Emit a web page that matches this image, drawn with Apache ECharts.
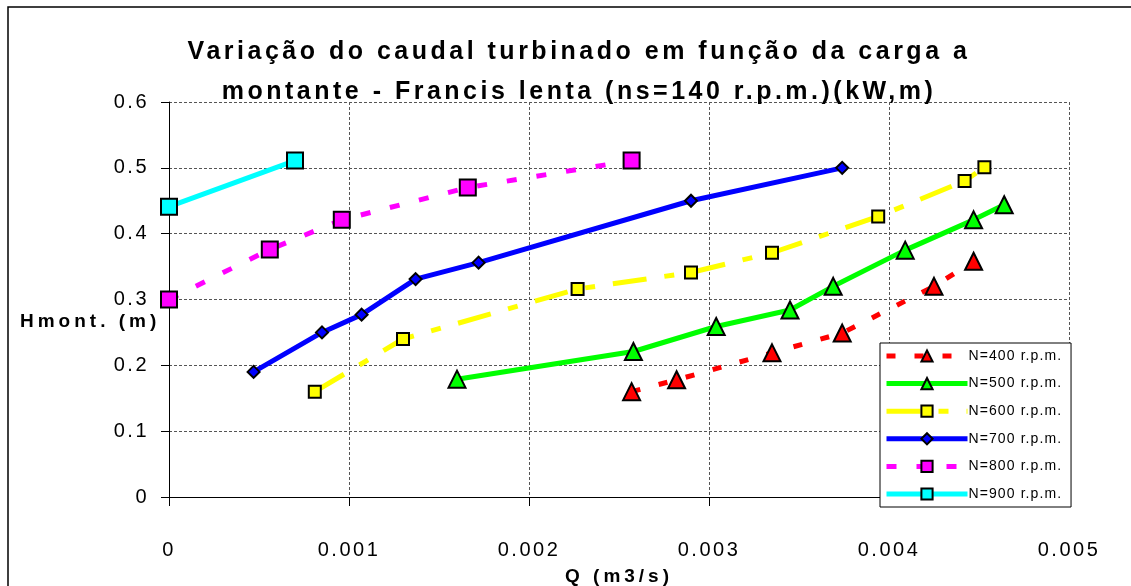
<!DOCTYPE html>
<html>
<head>
<meta charset="utf-8">
<script src="https://cdn.jsdelivr.net/npm/echarts@6/dist/echarts.min.js"></script>
<style>
html,body{margin:0;padding:0;background:#fff;}
#chart{width:1131px;height:586px;}
</style>
</head>
<body>
<div id="chart"></div>
<script>
// ---- data ----
const titleText = 'Variação do caudal turbinado em função da carga a\nmontante - Francis lenta (ns=140 r.p.m.)(kW,m)';
const xName = 'Q (m3/s)';
const yName = 'Hmont. (m)';
const seriesNames = ['N=400 r.p.m.', 'N=500 r.p.m.', 'N=600 r.p.m.', 'N=700 r.p.m.', 'N=800 r.p.m.', 'N=900 r.p.m.'];

const q400 = [0.00257, 0.00282, 0.00335, 0.00374, 0.00425, 0.00447];
const h400 = [0.160, 0.178, 0.219, 0.249, 0.320, 0.358];
const q500 = [0.00160, 0.00258, 0.00304, 0.00345, 0.00369, 0.00409, 0.00447, 0.00464];
const h500 = [0.179, 0.221, 0.259, 0.284, 0.320, 0.375, 0.421, 0.444];
const q600 = [0.00081, 0.00130, 0.00227, 0.00290, 0.00335, 0.00394, 0.00442, 0.00453];
const h600 = [0.160, 0.240, 0.316, 0.341, 0.371, 0.426, 0.480, 0.501];
const q700 = [0.00047, 0.00085, 0.00107, 0.00137, 0.00172, 0.00290, 0.00374];
const h700 = [0.190, 0.250, 0.277, 0.331, 0.356, 0.450, 0.500];
const q800 = [0, 0.00056, 0.00096, 0.00166, 0.00257];
const h800 = [0.300, 0.376, 0.421, 0.470, 0.511];
const q900 = [0, 0.00070];
const h900 = [0.441, 0.511];

// Excel-like letter spacing for text drawn on the canvas
(function(){
  const P = CanvasRenderingContext2D.prototype;
  const orig = P.fillText;
  const map = {25: '3.5px', 19: '4px', 20: '2.5px', 14: '1.1px'};
  P.fillText = function(){
    const m = /(\d+(?:\.\d+)?)px/.exec(this.font);
    const ls = m && map[Math.round(+m[1])];
    if (ls && ('letterSpacing' in this)) {
      const prev = this.letterSpacing;
      this.letterSpacing = ls;
      const r = orig.apply(this, arguments);
      this.letterSpacing = prev;
      return r;
    }
    return orig.apply(this, arguments);
  };
})();

function pairs(xs, ys){ return xs.map((x, i) => [x, ys[i]]); }

const FONT = "'Liberation Sans', Arial, sans-serif";

function mk(name, xs, ys, color, dash, symbol, size){
  return {
    name: name,
    type: 'line',
    data: pairs(xs, ys),
    clip: false,
    symbol: symbol,
    symbolSize: size,
    showAllSymbol: true,
    lineStyle: {color: color, width: 5, type: dash, cap: 'butt'},
    itemStyle: {color: color, borderColor: '#000', borderWidth: 2},
    emphasis: {disabled: true},
    animation: false
  };
}

const chart = echarts.init(document.getElementById('chart'), null, {renderer: 'canvas'});
chart.setOption({
  backgroundColor: '#fff',
  animation: false,
  title: {
    text: titleText,
    left: 574,
    top: 27,
    textAlign: 'center',
    textStyle: {fontFamily: FONT, fontSize: 25, fontWeight: 'bold', color: '#000', lineHeight: 40}
  },
  grid: {left: 169, right: 62, top: 102, bottom: 89, containLabel: false, outerBoundsMode: 'none'},
  xAxis: {
    type: 'value',
    min: 0, max: 0.005, interval: 0.001,
    name: xName,
    nameLocation: 'middle',
    nameGap: 70,
    nameTextStyle: {fontFamily: FONT, fontSize: 19, fontWeight: 'bold', color: '#000'},
    axisLine: {show: true, onZero: false, lineStyle: {color: '#000', width: 1}},
    axisTick: {show: true, length: 9, lineStyle: {color: '#000'}},
    axisLabel: {fontFamily: FONT, fontSize: 20, color: '#000', margin: 43,
      formatter: v => String(Number(v.toFixed(3)))},
    splitLine: {show: true, lineStyle: {color: '#555', type: [3, 2], width: 1}}
  },
  yAxis: {
    type: 'value',
    min: 0, max: 0.6, interval: 0.1,
    axisLine: {show: true, onZero: false, lineStyle: {color: '#000', width: 1}},
    axisTick: {show: true, length: 8, lineStyle: {color: '#000'}},
    axisLabel: {fontFamily: FONT, fontSize: 20, color: '#000', margin: 20,
      formatter: v => String(Number(v.toFixed(1)))},
    splitLine: {show: true, lineStyle: {color: '#555', type: [3, 2], width: 1}}
  },
  legend: {
    orient: 'vertical',
    left: 880,
    top: 343,
    itemWidth: 81,
    itemHeight: 14,
    itemGap: 13.6,
    padding: [6, 22, 6, 4],
    backgroundColor: '#fff',
    borderColor: '#000',
    borderWidth: 1,
    borderRadius: 0,
    lineStyle: {width: 5},
    textStyle: {fontFamily: FONT, fontSize: 14, color: '#000', padding: [0, 0, 0, -4]},
    selectedMode: false,
    data: seriesNames
  },
  graphic: [
    {type: 'rect', shape: {x: 8, y: 7, width: 1300, height: 800}, style: {fill: 'none', stroke: '#000', lineWidth: 1.5}, silent: true, z: -1},
    {type: 'text', left: 20, top: 312, style: {text: yName, font: "bold 19px 'Liberation Sans', Arial, sans-serif", fill: '#000'}, silent: true}
  ],
  series: [
    mk(seriesNames[0], q400, h400, '#ff0000', [9, 19], 'triangle', 17),
    mk(seriesNames[1], q500, h500, '#00ff00', 'solid', 'triangle', 17),
    mk(seriesNames[2], q600, h600, '#ffff00', [34, 18, 10, 18], 'rect', 12),
    mk(seriesNames[3], q700, h700, '#0000ff', 'solid', 'diamond', 12),
    mk(seriesNames[4], q800, h800, '#ff00ff', [10, 20], 'rect', 16),
    mk(seriesNames[5], q900, h900, '#00ffff', 'solid', 'rect', 16)
  ]
});
</script>
</body>
</html>
